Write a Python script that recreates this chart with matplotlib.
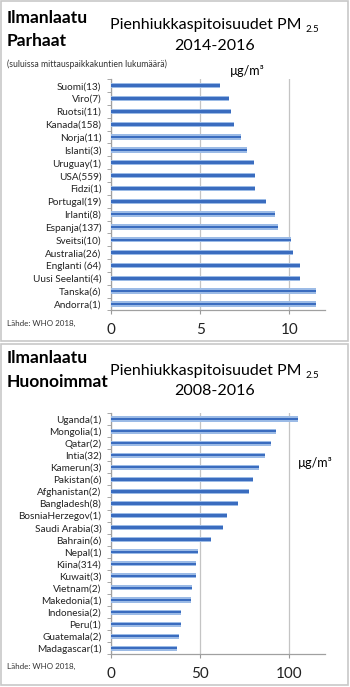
import matplotlib
matplotlib.use("Agg")
import matplotlib.pyplot as plt
from matplotlib.patches import Rectangle
import numpy as np

plt.rcParams['font.family'] = ['Lato', 'DejaVu Sans']

# Parhaat 2014-2016
best_names = ["Suomi(13)", "Viro(7)", "Ruotsi(11)", "Kanada(158)", "Norja(11)",
              "Islanti(3)", "Uruguay(1)", "USA(559)", "Fidzi(1)", "Portugal(19)",
              "Irlanti(8)", "Espanja(137)", "Sveitsi(10)", "Australia(26)",
              "Englanti (64)", "Uusi Seelanti(4)", "Tanska(6)", "Andorra(1)"]
best_vals = [6.1, 6.6, 6.75, 6.9, 7.3, 7.6, 8.0, 8.05, 8.1, 8.7,
             9.2, 9.35, 10.1, 10.2, 10.6, 10.6, 11.5, 11.5]
best_ticks = [0, 5, 10]

# Huonoimmat 2008-2016
worst_names = ["Uganda(1)", "Mongolia(1)", "Qatar(2)", "Intia(32)", "Kamerun(3)",
               "Pakistan(6)", "Afghanistan(2)", "Bangladesh(8)", "BosniaHerzegov(1)",
               "Saudi Arabia(3)", "Bahrain(6)", "Nepal(1)", "Kiina(314)", "Kuwait(3)",
               "Vietnam(2)", "Makedonia(1)", "Indonesia(2)", "Peru(1)",
               "Guatemala(2)", "Madagascar(1)"]
worst_vals = [104.7, 92.4, 89.6, 86.2, 82.9, 79.9, 77.4, 71.4, 65.2, 62.6,
              56.2, 49.0, 47.7, 47.9, 45.5, 45.1, 39.1, 39.1, 38.1, 37.0]
worst_ticks = [0, 50, 100]

W, H = 350, 687
fig = plt.figure(figsize=(W / 100, H / 100), dpi=100)
fig.patch.set_facecolor("white")

def fx(px):
    return px / W

def fy(py):
    return 1 - py / H

# panel frames
for top, bot in [(1, 341), (344, 685)]:
    fig.patches.append(Rectangle((fx(1), fy(bot)), fx(347), (bot - top) / H,
                                 transform=fig.transFigure, fill=False,
                                 edgecolor="#c8c8c8", linewidth=1.2))

def draw_bars(ax, names, vals, xmax, ticks):
    y = np.arange(len(names))
    ax.barh(y, vals, height=0.42, color="#9cbbe6", zorder=3)
    ax.barh(y, vals, height=0.2, color="#3a6cbf", zorder=4)
    ax.set_ylim(len(names) - 0.5, -0.5)
    ax.set_xlim(0, xmax)
    ax.set_yticks(y)
    ax.set_yticklabels(names, fontsize=7.2, color="#222222")
    ax.set_yticks(np.arange(len(names) + 1) - 0.5, minor=True)
    ax.tick_params(axis="y", which="major", length=0, pad=7)
    ax.tick_params(axis="y", which="minor", length=3, color="#999999")
    ax.set_xticks(ticks)
    ax.set_xticklabels([str(t) for t in ticks], fontsize=11, color="#222222")
    ax.tick_params(axis="x", length=3, color="#999999", pad=6)
    ax.grid(axis="x", color="#c4c4c4", linewidth=0.9, zorder=0)
    for s in ["top", "right"]:
        ax.spines[s].set_visible(False)
    for s in ["left", "bottom"]:
        ax.spines[s].set_color("#a0a0a0")
        ax.spines[s].set_linewidth(0.9)

ax1 = fig.add_axes([fx(111), fy(310.4), fx(214), (310.4 - 79.3) / H])
draw_bars(ax1, best_names, best_vals, 12, best_ticks)

ax2 = fig.add_axes([fx(111), fy(654.3), fx(214), (654.3 - 413) / H])
draw_bars(ax2, worst_names, worst_vals, 120, worst_ticks)

# texts, top panel
fig.text(fx(7), fy(18), "Ilmanlaatu", fontsize=12.5, fontweight="bold", va="center")
fig.text(fx(7), fy(41), "Parhaat", fontsize=12.5, fontweight="bold", va="center")
fig.text(fx(302), fy(25), "Pienhiukkaspitoisuudet PM", fontsize=11.5, ha="right", va="center")
fig.text(fx(306), fy(29), "2.5", fontsize=7, ha="left", va="center")
fig.text(fx(215), fy(46), "2014-2016", fontsize=11.5, ha="center", va="center")
fig.text(fx(7), fy(64), "(suluissa mittauspaikkakuntien lukumäärä)", fontsize=6.2,
         va="center", color="#333333")
fig.text(fx(230), fy(71), "µg/m³", fontsize=9, va="center")
fig.text(fx(7), fy(323), "Lähde: WHO 2018,", fontsize=5.8, va="center", color="#333333")

# texts, bottom panel
fig.text(fx(7), fy(358), "Ilmanlaatu", fontsize=12.5, fontweight="bold", va="center")
fig.text(fx(7), fy(382), "Huonoimmat", fontsize=12.5, fontweight="bold", va="center")
fig.text(fx(302), fy(371), "Pienhiukkaspitoisuudet PM", fontsize=11.5, ha="right", va="center")
fig.text(fx(306), fy(375), "2.5", fontsize=7, ha="left", va="center")
fig.text(fx(215), fy(391), "2008-2016", fontsize=11.5, ha="center", va="center")
fig.text(fx(298), fy(463), "µg/m³", fontsize=9, va="center")
fig.text(fx(7), fy(666), "Lähde: WHO 2018,", fontsize=5.8, va="center", color="#333333")

fig.savefig("out.png", dpi=100)
